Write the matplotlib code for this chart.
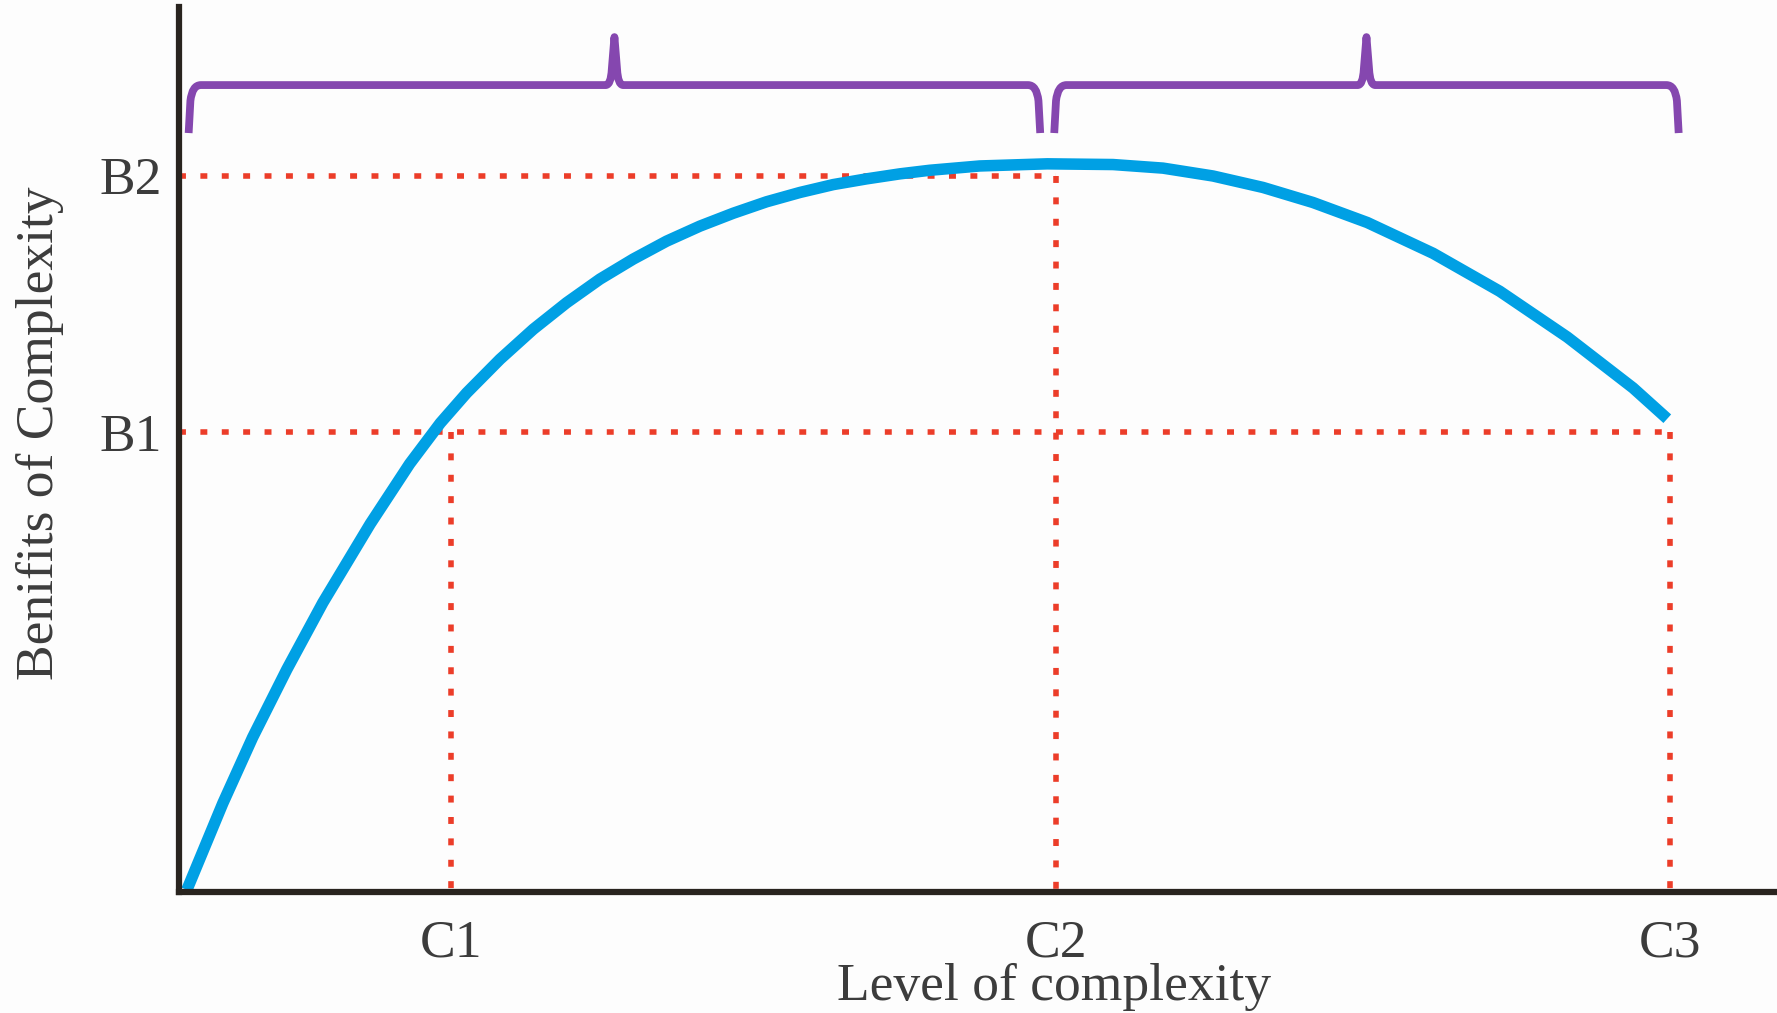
import matplotlib
matplotlib.use("Agg")
import matplotlib.pyplot as plt
from matplotlib.path import Path
from matplotlib.patches import PathPatch

# ---- data ----
tick_x_labels = ["C1", "C2", "C3"]
tick_x_values = [3.1, 10.0, 17.0]
tick_y_labels = ["B1", "B2"]
tick_y_values = [6.42, 10.0]

curve_x = [0.09, 0.50, 0.84, 1.23, 1.64, 2.18, 2.63, 2.98, 3.28, 3.66, 4.04, 4.42,
           4.80, 5.18, 5.56, 5.94, 6.32, 6.70, 7.08, 7.46, 7.84, 8.22, 8.56, 9.13,
           9.90, 10.65, 11.22, 11.79, 12.36, 12.93, 13.55, 14.30, 15.06, 15.83,
           16.58, 16.97]
curve_y = [0.03, 1.24, 2.16, 3.11, 4.04, 5.14, 5.98, 6.55, 6.97, 7.44, 7.86, 8.23,
           8.56, 8.84, 9.09, 9.30, 9.48, 9.64, 9.77, 9.88, 9.96, 10.03, 10.08, 10.14,
           10.17, 10.16, 10.11, 10.00, 9.84, 9.63, 9.35, 8.92, 8.39, 7.75,
           7.04, 6.61]

x_label = "Level of complexity"
y_label = "Benifits of Complexity"

C1, C2, C3 = tick_x_values
B1, B2 = tick_y_values

W, H = 1777, 1013
fig = plt.figure(figsize=(W / 100, H / 100), dpi=100)
fig.patch.set_facecolor("#fdfdfd")

ax_left = 179 / W
ax_bottom = (H - 892) / H
ax_top = (H - 7) / H
ax = fig.add_axes([ax_left, ax_bottom, 1 - ax_left, ax_top - ax_bottom])
ax.set_facecolor("#fdfdfd")
ax.set_xlim(0, (W - 179) / 87.7)
ax.set_ylim(0, (892 - 7) / 71.6)

for s in ["top", "right"]:
    ax.spines[s].set_visible(False)
for s in ["left", "bottom"]:
    ax.spines[s].set_linewidth(4.5)
    ax.spines[s].set_color("#29241f")
    ax.spines[s].set_zorder(5)

serif = ["Liberation Serif", "DejaVu Serif"]
txt_color = "#3c3c3c"
fs = 38.5

ax.set_xticks(tick_x_values, tick_x_labels, family=serif, fontsize=fs, color=txt_color)
ax.set_yticks(tick_y_values, tick_y_labels, family=serif, fontsize=fs, color=txt_color)
ax.tick_params(axis="x", length=0, pad=20)
ax.tick_params(axis="y", length=0, pad=12)

red = "#ec3d29"
dots = (0, (1.25, 2.6))
lw_r = 4.0
# horizontal guides
ax.plot([0, C2], [B2, B2], color=red, lw=lw_r, linestyle=dots, dash_capstyle="butt", zorder=2)
ax.plot([0, C3], [B1, B1], color=red, lw=lw_r, linestyle=dots, dash_capstyle="butt", zorder=2)
# vertical guides
ax.plot([C1, C1], [B1, 0], color=red, lw=lw_r, linestyle=dots, dash_capstyle="butt", zorder=2)
ax.plot([C2, C2], [B2, 0], color=red, lw=lw_r, linestyle=dots, dash_capstyle="butt", zorder=2)
ax.plot([C3, C3], [B1, 0], color=red, lw=lw_r, linestyle=dots, dash_capstyle="butt", zorder=2)

# main curve
ax.plot(curve_x, curve_y, color="#00a0e4", lw=8.3, solid_joinstyle="round",
        solid_capstyle="butt", zorder=3, clip_on=False)


def brace(x0, x1, yb=11.27, yt=10.6, yp=11.94):
    xm = (x0 + x1) / 2
    verts = [
        (x0, yt),
        (x0 + 0.02, yb - 0.22),
        (x0 + 0.04, yb), (x0 + 0.14, yb),
        (xm - 0.10, yb),
        (xm - 0.04, yb), (xm - 0.03, yb + 0.22),
        (xm, yp),
        (xm + 0.03, yb + 0.22),
        (xm + 0.04, yb), (xm + 0.10, yb),
        (x1 - 0.14, yb),
        (x1 - 0.04, yb), (x1 - 0.02, yb - 0.22),
        (x1, yt),
    ]
    codes = [Path.MOVETO, Path.LINETO, Path.CURVE3, Path.CURVE3, Path.LINETO,
             Path.CURVE3, Path.CURVE3, Path.LINETO, Path.LINETO, Path.CURVE3,
             Path.CURVE3, Path.LINETO, Path.CURVE3, Path.CURVE3, Path.LINETO]
    p = PathPatch(Path(verts, codes), facecolor="none", edgecolor="#8547af",
                  lw=5.6, joinstyle="round", capstyle="butt", clip_on=False, zorder=4)
    ax.add_patch(p)


brace(0.11, C2 - 0.18)
brace(C2 - 0.02, C3 + 0.10)

fig.text(40 / W, (H - 433) / H, y_label, rotation=90, ha="center", va="center",
         family=serif, fontsize=fs, color=txt_color)
fig.text(1054 / W, (H - 1000) / H, x_label, ha="center", va="baseline",
         family=serif, fontsize=fs, color=txt_color)

fig.savefig("out.png", dpi=100, facecolor=fig.get_facecolor())
